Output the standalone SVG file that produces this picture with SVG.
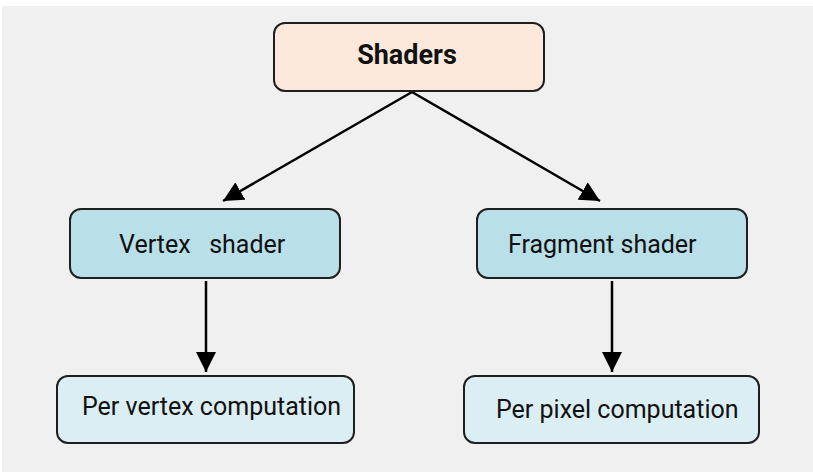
<svg xmlns="http://www.w3.org/2000/svg" width="813" height="472" viewBox="0 0 813 472">
  <defs>
    <marker id="arrow" viewBox="0 0 10 10" refX="10" refY="5" markerWidth="20" markerHeight="20" markerUnits="userSpaceOnUse" orient="auto">
      <path d="M0,0 L10,5 L0,10 z" fill="#000"/>
    </marker>
    <style>
      .box { stroke: #1f1f1f; stroke-width: 2; }
      .top { fill: #fde9dc; }
      .mid { fill: #b9dfe8; }
      .low { fill: #dbeef3; }
      .lbl { font-family: Roboto, "Liberation Sans", sans-serif; fill: #111; }
      .edge { stroke: #000; stroke-width: 2.5; fill: none; }
    </style>
  </defs>
  <rect width="813" height="472" fill="#ffffff"/>
  <rect x="2" y="6" width="811" height="466" fill="#f0f0f0"/>

  <g id="connectors">
    <line class="edge" x1="412" y1="92" x2="223" y2="201" style="marker-end:url(#arrow)"/>
    <line class="edge" x1="412" y1="92" x2="600" y2="201" style="marker-end:url(#arrow)"/>
    <line class="edge" x1="206" y1="281" x2="206" y2="372" style="marker-end:url(#arrow)"/>
    <line class="edge" x1="612" y1="281" x2="612" y2="372" style="marker-end:url(#arrow)"/>
  </g>

  <g id="shaders">
    <rect class="box top" x="274" y="23" width="270" height="68" rx="11"/>
    <text class="lbl" x="407" y="64" font-size="27" font-weight="bold" text-anchor="middle">Shaders</text>
  </g>
  <g id="vertex-shader">
    <rect class="box mid" x="70" y="209" width="270" height="69" rx="11"/>
    <text class="lbl" x="119" y="253" font-size="25" xml:space="preserve">Vertex   shader</text>
  </g>
  <g id="fragment-shader">
    <rect class="box mid" x="477" y="209" width="270" height="69" rx="11"/>
    <text class="lbl" x="508" y="253" font-size="25">Fragment shader</text>
  </g>
  <g id="per-vertex">
    <rect class="box low" x="57" y="376" width="297" height="67" rx="11"/>
    <text class="lbl" x="82" y="415" font-size="25">Per vertex computation</text>
  </g>
  <g id="per-pixel">
    <rect class="box low" x="464" y="376" width="295" height="67" rx="11"/>
    <text class="lbl" x="496" y="418" font-size="25">Per pixel computation</text>
  </g>
</svg>
